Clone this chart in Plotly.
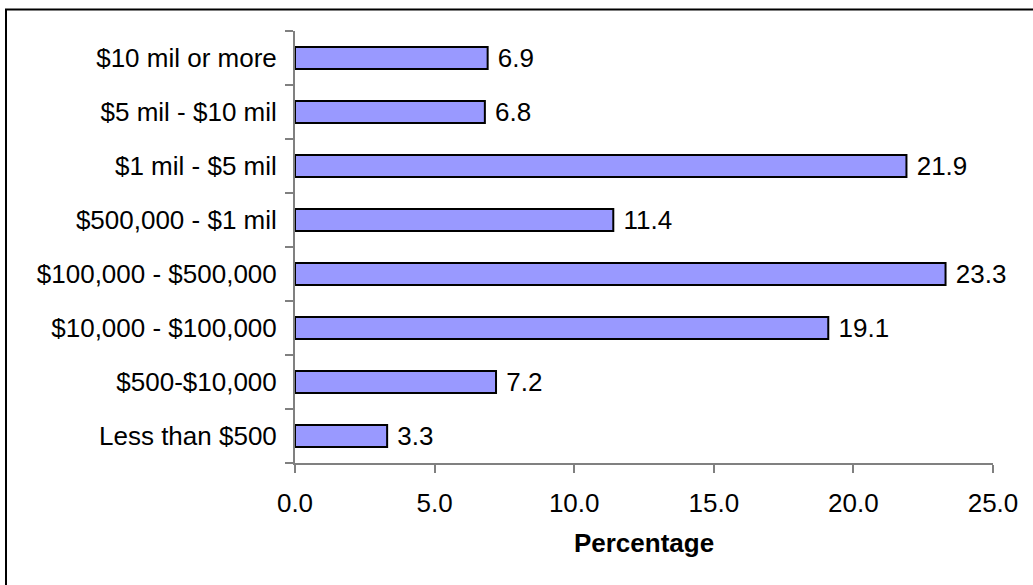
import plotly.graph_objects as go

categories = ["Less than $500", "$500-$10,000", "$10,000 - $100,000", "$100,000 - $500,000",
              "$500,000 - $1 mil", "$1 mil - $5 mil", "$5 mil - $10 mil", "$10 mil or more"]
values = [3.3, 7.2, 19.1, 23.3, 11.4, 21.9, 6.8, 6.9]
x_ticks = [0, 5, 10, 15, 20, 25]
x_tick_labels = ["0.0", "5.0", "10.0", "15.0", "20.0", "25.0"]

FONT = "Liberation Sans, Arial, sans-serif"
FS = 26

fig = go.Figure(go.Bar(
    y=categories, x=values, orientation="h",
    marker=dict(color="#9999FF", line=dict(color="black", width=2)),
    text=[f" {v:.1f}" for v in values], textposition="outside", constraintext="none",
    textfont=dict(family=FONT, size=FS, color="black"),
    cliponaxis=False,
))

fig.update_layout(
    width=1033, height=585,
    margin=dict(l=295, r=40, t=31, b=122),
    paper_bgcolor="white", plot_bgcolor="white",
    bargap=0.59, showlegend=False,
    font=dict(family=FONT, size=FS, color="black"),
    xaxis=dict(range=[0, 25], tickvals=x_ticks, ticktext=x_tick_labels,
               showgrid=False, zeroline=False, showline=True, linecolor="#808080", linewidth=2,
               ticks="outside", ticklen=8, tickcolor="#808080", tickwidth=2, ticklabelstandoff=8,
               title=dict(text="<b>Percentage</b>", font=dict(family=FONT, size=FS), standoff=17),
               tickfont=dict(family=FONT, size=FS)),
    yaxis=dict(type="category", categoryorder="array", categoryarray=categories,
               showgrid=False, zeroline=False, showline=True, linecolor="#808080", linewidth=2,
               ticks="outside", ticklen=8, tickcolor="#808080", tickwidth=2, tickson="boundaries",
               tickfont=dict(family=FONT, size=FS), ticklabelstandoff=11),
)

# chart frame (only top & left edges visible)
px_w, px_h = 698.0, 432.0
left = (6 - 295) / px_w
top = (463 - 9.5) / px_h
fig.add_shape(type="path", xref="paper", yref="paper",
              path=f"M {left} -1 L {left} {top} L 2 {top}",
              line=dict(color="black", width=2))

fig.write_html("out.html")
